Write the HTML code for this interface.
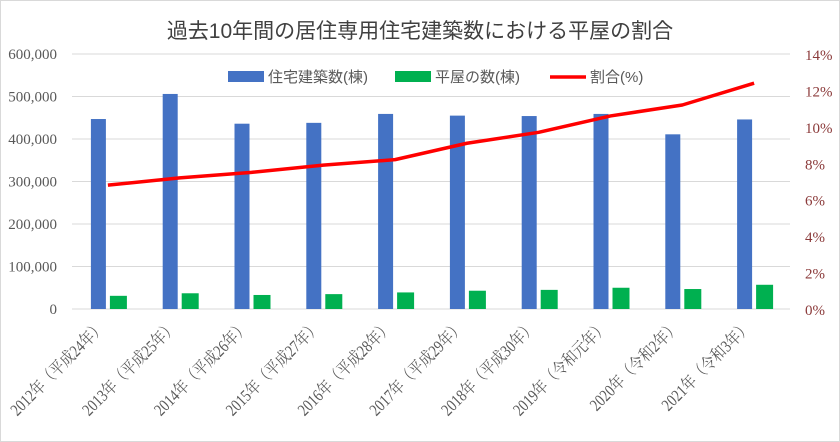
<!DOCTYPE html>
<html><head><meta charset="utf-8"><style>
body{margin:0;background:#fff;}
svg{display:block;font-family:"Liberation Serif","Noto Serif CJK SC",serif;}
</style></head><body>
<svg id="chart" width="840" height="442"></svg>
<script>
const categories=["2012年（平成24年）","2013年（平成25年）","2014年（平成26年）","2015年（平成27年）","2016年（平成28年）","2017年（平成29年）","2018年（平成30年）","2019年（令和元年）","2020年（令和2年）","2021年（令和3年）"];
const housing=[447000,506000,436000,438000,459000,455000,454000,459000,411000,446000];
const hiraya=[31000,37000,33000,35000,39000,43000,45000,50000,47000,57000];
const ratio=[6.8,7.2,7.5,7.9,8.2,9.1,9.7,10.6,11.2,12.4];
const leftTicks=[0,100000,200000,300000,400000,500000,600000];
const rightTicks=[0,2,4,6,8,10,12,14];

const NS="http://www.w3.org/2000/svg";
const svg=document.getElementById('chart');
function mk(t,a,p){const e=document.createElementNS(NS,t);for(const k in a)e.setAttribute(k,a[k]);(p||svg).appendChild(e);return e;}
const X0=72,X1=790,Y0=309,Y1=54;
const band=(X1-X0)/categories.length;
const yL=v=>Y0-(v/600000)*(Y0-Y1);
const yR=v=>Y0-(v/14)*(Y0-Y1);
const cx=i=>X0+band*(i+0.5);

mk('rect',{x:0.5,y:0.5,width:839,height:441,fill:'#fff',stroke:'#d9d9d9'});
const title=mk('text',{x:420,y:38,'text-anchor':'middle','font-size':21,fill:'#404040','font-family':'"Liberation Sans","Noto Sans CJK JP",sans-serif'});
title.textContent='過去10年間の居住専用住宅建築数における平屋の割合';



leftTicks.forEach(v=>{
  const g=mk('line',{x1:X0,x2:X1,y1:yL(v),y2:yL(v),stroke:'#d9d9d9','stroke-width':1});
  
  
  const t=mk('text',{x:57,y:yL(v)+5,'text-anchor':'end','font-size':15,fill:'#595959'});
  t.textContent=v.toLocaleString('en-US');
  
  
});
rightTicks.forEach(v=>{
  const t=mk('text',{x:805,y:yR(v)+6,'text-anchor':'start','font-size':15,fill:'#8b3a3a'});
  t.textContent=v+'%';
  
  
});

categories.forEach((c,i)=>{
  const b=mk('rect',{x:cx(i)-17,y:yL(housing[i]),width:15,height:Y0-yL(housing[i]),fill:'#4472c4'});
  
  
  const g=mk('rect',{x:cx(i)+2,y:yL(hiraya[i]),width:17,height:Y0-yL(hiraya[i]),fill:'#00b050'});
  
  
  const t=mk('text',{x:0,y:0,'text-anchor':'end','font-size':17,fill:'#595959',transform:`translate(${cx(i)-2},${328}) rotate(-45) scale(0.82,1)`});
  t.textContent=c;
  
  
});

const pts=ratio.map((v,i)=>cx(i)+','+yR(v)).join(' ');
const line=mk('polyline',{points:pts,fill:'none',stroke:'#ff0000','stroke-width':3.5,'stroke-linejoin':'round'});



const lg=mk('g',{});


const items=[['rect','#4472c4','住宅建築数(棟)',228],['rect','#00b050','平屋の数(棟)',395],['line','#ff0000','割合(%)',550]];
items.forEach(([k,col,lab,x])=>{
  if(k==='rect')mk('rect',{x:x,y:71,width:36,height:11,fill:col},lg);
  else mk('line',{x1:x,x2:x+36,y1:77,y2:77,stroke:col,'stroke-width':3.5},lg);
  const t=mk('text',{x:x+40,y:82,'font-size':15,fill:'#595959','font-family':'"Liberation Sans","Noto Sans CJK JP",sans-serif'},lg);
  t.textContent=lab;
  
  
});
</script>
</body></html>
